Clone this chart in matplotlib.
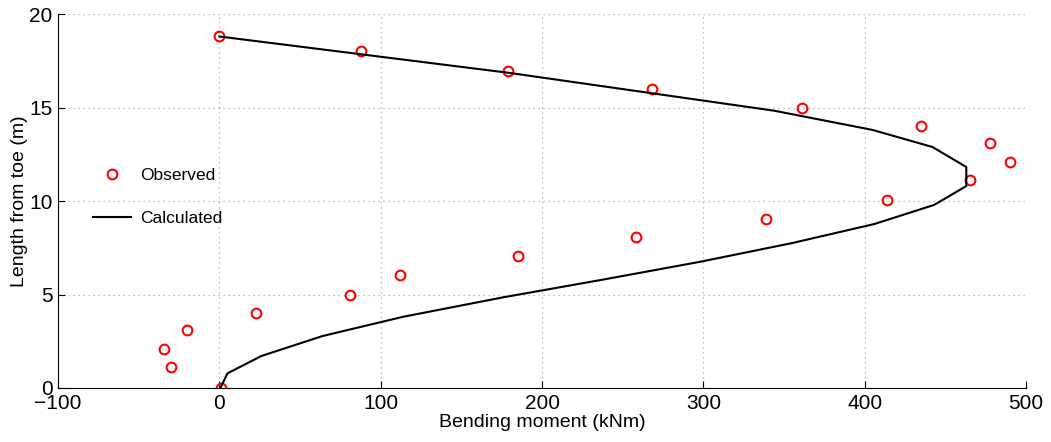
import matplotlib.pyplot as plt
import numpy as np

plt.rcParams['font.family'] = ['Liberation Sans', 'DejaVu Sans']

# observed bending moment (kNm) vs length from toe (m)
obs_moment = [0, 88, 179, 268, 361, 435, 478, 490, 465, 414, 339, 258, 185, 112, 81, 23, -20, -34, -30, 1]
obs_length = [18.8, 18.0, 16.95, 16.0, 14.97, 14.0, 13.1, 12.1, 11.12, 10.05, 9.04, 8.07, 7.06, 6.04, 4.97, 4.01, 3.1, 2.09, 1.12, 0.0]

# calculated
calc_moment = [0, 180, 344, 405, 442, 463, 463, 443, 406, 355, 298, 238, 176, 114, 64, 26, 5, 0.7]
calc_length = [18.8, 16.85, 14.83, 13.8, 12.89, 11.82, 10.8, 9.79, 8.77, 7.75, 6.75, 5.8, 4.85, 3.81, 2.78, 1.71, 0.78, 0.0]

fig = plt.figure(figsize=(10.51, 4.42), dpi=100)
ax = fig.add_axes([0.0552, 0.1222, 0.921, 0.846])

ax.plot(obs_moment, obs_length, 'o', mfc='none', mec='red', mew=1.5, ms=7, label='Observed')
ax.plot(calc_moment, calc_length, '-', c='black', lw=1.5, label='Calculated')

ax.set_xlim(-100, 500)
ax.set_ylim(0, 20)
ax.set_xticks(np.arange(-100, 501, 100))
ax.set_yticks(np.arange(0, 21, 5))
ax.grid(True, linestyle=(0, (1, 3)), color='#aaaaaa', linewidth=0.9)
ax.spines['top'].set_visible(False)
ax.spines['right'].set_visible(False)
ax.tick_params(direction='in', length=5, labelsize=15, pad=4)
ax.set_xlabel('Bending moment (kNm)', fontsize=14, labelpad=1)
ax.set_ylabel('Length from toe (m)', fontsize=14, labelpad=1)

ax.legend(loc='upper left', bbox_to_anchor=(0.02, 0.63), frameon=False, fontsize=12.5,
          handlelength=2.2, labelspacing=1.6, handletextpad=0.5)

fig.savefig('out.png', dpi=100)
